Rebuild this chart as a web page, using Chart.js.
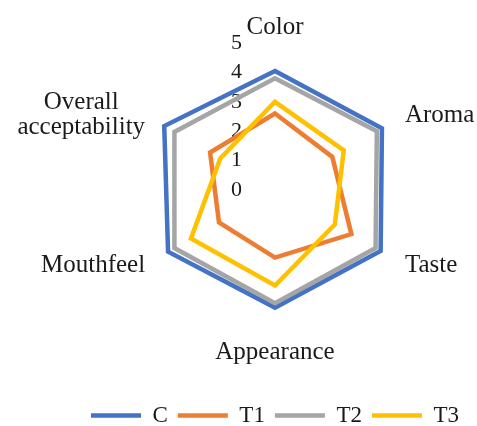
<!DOCTYPE html>
<html>
<head>
<meta charset="utf-8">
<script src="https://cdn.jsdelivr.net/npm/chart.js@4.4.1/dist/chart.umd.min.js"></script>
<style>
  html, body { margin: 0; padding: 0; background: #ffffff; }
  #wrap { position: relative; width: 477px; height: 426px; }
</style>
</head>
<body>
<div id="wrap"><canvas id="chart" width="477" height="426"></canvas></div>
<script>
// Sensory scores (scale 0-5)
const categories = ['Color', 'Aroma', 'Taste', 'Appearance', 'Mouthfeel', ['Overall', 'acceptability']];
const seriesNames = ['C', 'T1', 'T2', 'T3'];
const valuesC = [4.05, 4.2, 4.15, 4.0, 4.2, 4.35];
const valuesT1 = [2.6, 2.25, 3.0, 2.3, 2.2, 2.55];
const valuesT2 = [3.8, 4.0, 3.95, 3.85, 3.95, 3.95];
const valuesT3 = [3.0, 2.7, 2.35, 3.25, 3.3, 2.15];
const tickLabels = ['0', '1', '2', '3', '4', '5'];

const colors = ['#4472C4', '#ED7D31', '#A5A5A5', '#FFC000'];
const textColor = '#1a1a1a';
const serif = '"Liberation Serif", "Times New Roman", serif';

// category names sit just outside the outer ring, like Excel does it
const axisLabels = {
  id: 'axisLabels',
  afterDraw(chart) {
    const scale = chart.scales.r;
    const ctx = chart.ctx;
    const lineHeight = 25;
    ctx.save();
    ctx.font = '25px ' + serif;
    ctx.fillStyle = textColor;
    ctx.textAlign = 'center';
    ctx.textBaseline = 'middle';
    chart.data.labels.forEach((label, i) => {
      const lines = [].concat(label);
      const p = scale.getPointPosition(i, scale.drawingArea + 3);
      const w = Math.max(...lines.map(l => ctx.measureText(l).width));
      const h = lines.length * lineHeight;
      const dx = p.x - scale.xCenter;
      const dy = p.y - scale.yCenter;
      let cx = p.x;
      let top = p.y - h / 2;
      if (Math.abs(dx) < 1) {
        top = dy < 0 ? p.y - h : p.y;
      } else {
        cx = dx > 0 ? p.x + w / 2 : p.x - w / 2;
      }
      lines.forEach((line, k) => ctx.fillText(line, cx, top + lineHeight * (k + 0.5)));
    });
    ctx.restore();
  }
};

const allValues = [valuesC, valuesT1, valuesT2, valuesT3];

new Chart(document.getElementById('chart'), {
  type: 'radar',
  data: {
    labels: categories,
    datasets: allValues.map((vals, i) => ({
      label: seriesNames[i],
      data: vals,
      borderColor: colors[i],
      backgroundColor: colors[i],
      borderWidth: 4.5,
      borderCapStyle: 'round',
      fill: false,
      pointRadius: 0,
      pointHoverRadius: 0,
      order: allValues.length - i   // later series drawn on top
    }))
  },
  options: {
    responsive: false,
    animation: false,
    events: [],
    layout: {
      padding: { left: 73, right: 0, top: 30, bottom: 0 }
    },
    scales: {
      r: {
        min: -0.0001,   // keeps the "0" tick label visible
        max: 5,
        grid: { display: false },
        angleLines: { display: false },
        pointLabels: { display: false },
        ticks: {
          stepSize: 1,
          showLabelBackdrop: false,
          color: textColor,
          font: { family: serif, size: 22 },
          // trailing spaces push the number left of the vertical axis
          callback: (value, index) => tickLabels[index] + '\u2002'.repeat(7)
        }
      }
    },
    plugins: {
      legend: {
        position: 'bottom',
        maxHeight: 76,
        title: { display: true, text: '', font: { size: 10 }, padding: { top: 32, bottom: 0 } },
        labels: {
          usePointStyle: true,
          pointStyle: 'line',
          pointStyleWidth: 50,
          padding: 10,
          color: textColor,
          font: { family: serif, size: 23 },
          sort: (a, b) => a.datasetIndex - b.datasetIndex
        }
      },
      tooltip: { enabled: false }
    }
  },
  plugins: [axisLabels]
});
</script>
</body>
</html>
